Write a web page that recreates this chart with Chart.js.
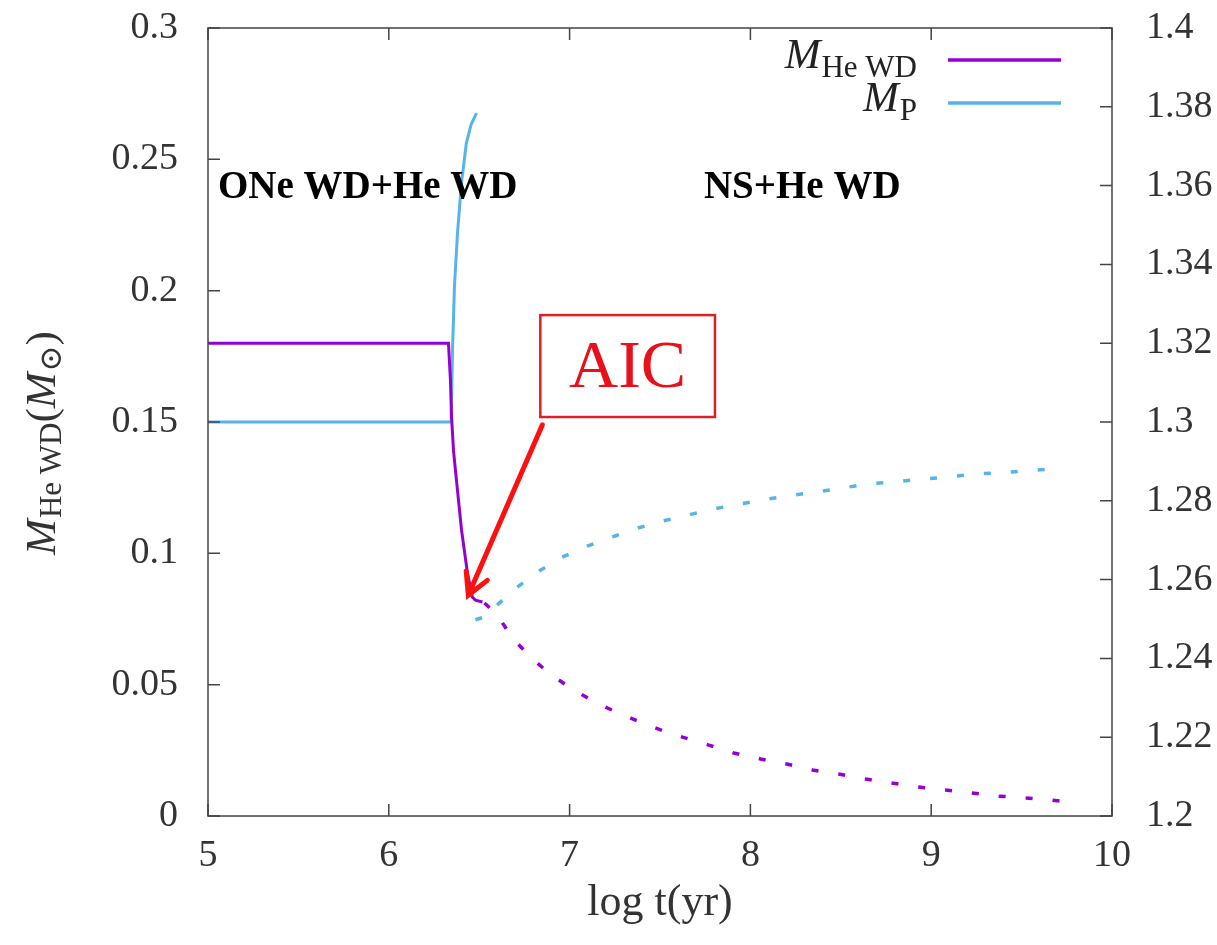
<!DOCTYPE html>
<html>
<head>
<meta charset="utf-8">
<script src="https://cdn.jsdelivr.net/npm/chart.js@4.4.1/dist/chart.umd.min.js"></script>
<style>
  html,body{margin:0;padding:0;background:#fff;}
  #wrap{width:1217px;height:945px;}
</style>
</head>
<body>
<div id="wrap"><canvas id="myChart" width="1217" height="945"></canvas></div>
<script>
// log t (yr) and He WD mass (left axis), before and after AIC
var heSolidT = [5.0, 6.330, 6.341, 6.347, 6.358, 6.374, 6.402, 6.435, 6.462, 6.479, 6.518];
var heSolidM = [0.18, 0.18, 0.166, 0.152, 0.139, 0.128, 0.109, 0.0925, 0.0834, 0.0822, 0.0815];
var heDashT = [6.529, 6.600, 6.683, 6.788, 6.898, 7.014, 7.147, 7.285, 7.417, 7.550, 7.770, 7.908, 8.057, 8.201, 8.344, 8.488, 8.637, 8.780, 8.929, 9.078, 9.222, 9.365, 9.520, 9.663, 9.713];
var heDashM = [0.0811, 0.0765, 0.0678, 0.0602, 0.0537, 0.0484, 0.0430, 0.0388, 0.0350, 0.0316, 0.0270, 0.0240, 0.0217, 0.0198, 0.0175, 0.0160, 0.0141, 0.0126, 0.0110, 0.0099, 0.0088, 0.0076, 0.0069, 0.0061, 0.0057];

// primary mass (right axis)
var pSolidT = [5.0, 6.345, 6.352, 6.363, 6.380, 6.402, 6.429, 6.455, 6.485];
var pSolidM = [1.3, 1.3, 1.3175, 1.3343, 1.348, 1.3607, 1.3708, 1.3755, 1.3784];
var pDashT = [6.479, 6.530, 6.600, 6.711, 6.832, 6.959, 7.097, 7.235, 7.379, 7.517, 7.632, 7.770, 7.908, 8.063, 8.206, 8.355, 8.504, 8.648, 8.797, 8.946, 9.089, 9.238, 9.387, 9.531, 9.680, 9.713];
var pDashM = [1.2498, 1.2505, 1.2536, 1.2581, 1.2622, 1.2657, 1.2685, 1.2708, 1.2731, 1.2749, 1.2761, 1.2777, 1.2789, 1.2802, 1.2812, 1.2822, 1.2832, 1.2843, 1.2848, 1.2855, 1.2860, 1.2868, 1.2871, 1.2876, 1.2881, 1.2883];

// annotations, in data units (x: log t, y: left axis)
var aicBox = {x1: 6.838, x2: 7.804, y1: 0.1907, y2: 0.1519};
var aicArrow = {x1: 6.849, y1: 0.1489, x2: 6.440, y2: 0.0841};
var stageLabels = [
    {text: 'ONe WD+He WD', x: 5.055, y: 0.2353},
    {text: 'NS+He WD', x: 7.743, y: 0.2353}
];

var purple = '#9400d3';
var blue = '#56b4e9';
var serif = "'Liberation Serif', 'DejaVu Serif', serif";

function pts(xs, ys) {
    return xs.map(function(v, i){ return {x: v, y: ys[i]}; });
}

// italic M with an upright subscript, returns width
function mSub(ctx, x, y, sub, measureOnly) {
    ctx.font = 'italic 43px ' + serif;
    var w1 = ctx.measureText('M').width;
    ctx.font = '31px ' + serif;
    var w2 = ctx.measureText(sub).width;
    if (!measureOnly) {
        ctx.font = 'italic 43px ' + serif;
        ctx.fillText('M', x, y);
        ctx.font = '31px ' + serif;
        ctx.fillText(sub, x + w1 + 1, y + 9);
    }
    return w1 + 1 + w2;
}

var decor = {
    id: 'decor',
    afterDraw: function(chart) {
        var ctx = chart.ctx;
        var a = chart.chartArea;
        var sx = chart.scales.x, sy = chart.scales.y, sy2 = chart.scales.y2;
        ctx.save();

        // frame and inward ticks
        ctx.strokeStyle = '#444';
        ctx.lineWidth = 1.5;
        ctx.strokeRect(a.left, a.top, a.right - a.left, a.bottom - a.top);
        ctx.beginPath();
        sx.ticks.forEach(function(t){
            var px = sx.getPixelForValue(t.value);
            ctx.moveTo(px, a.bottom); ctx.lineTo(px, a.bottom - 12);
            ctx.moveTo(px, a.top); ctx.lineTo(px, a.top + 12);
        });
        sy.ticks.forEach(function(t){
            var py = sy.getPixelForValue(t.value);
            ctx.moveTo(a.left, py); ctx.lineTo(a.left + 12, py);
        });
        sy2.ticks.forEach(function(t){
            var py = sy2.getPixelForValue(t.value);
            ctx.moveTo(a.right, py); ctx.lineTo(a.right - 12, py);
        });
        ctx.stroke();

        // stage labels
        ctx.fillStyle = '#000';
        ctx.font = 'bold 39px ' + serif;
        ctx.textAlign = 'left';
        ctx.textBaseline = 'alphabetic';
        stageLabels.forEach(function(l){
            ctx.fillText(l.text, sx.getPixelForValue(l.x), sy.getPixelForValue(l.y));
        });

        // AIC box
        var bx1 = sx.getPixelForValue(aicBox.x1), bx2 = sx.getPixelForValue(aicBox.x2);
        var by1 = sy.getPixelForValue(aicBox.y1), by2 = sy.getPixelForValue(aicBox.y2);
        ctx.fillStyle = '#fff';
        ctx.fillRect(bx1, by1, bx2 - bx1, by2 - by1);
        ctx.strokeStyle = '#dd1f26';
        ctx.lineWidth = 2.5;
        ctx.strokeRect(bx1, by1, bx2 - bx1, by2 - by1);
        ctx.fillStyle = '#e8101a';
        ctx.font = '68px ' + serif;
        ctx.textAlign = 'center';
        ctx.textBaseline = 'middle';
        ctx.fillText('AIC', (bx1 + bx2) / 2, (by1 + by2) / 2 + 3);

        // arrow
        var ax1 = sx.getPixelForValue(aicArrow.x1), ay1 = sy.getPixelForValue(aicArrow.y1);
        var ax2 = sx.getPixelForValue(aicArrow.x2), ay2 = sy.getPixelForValue(aicArrow.y2);
        var ang = Math.atan2(ay2 - ay1, ax2 - ax1);
        ctx.strokeStyle = '#ff1010';
        ctx.lineWidth = 5;
        ctx.lineCap = 'round';
        ctx.beginPath();
        ctx.moveTo(ax1, ay1); ctx.lineTo(ax2, ay2);
        ctx.moveTo(ax2 - 24 * Math.cos(ang - 0.5), ay2 - 24 * Math.sin(ang - 0.5));
        ctx.lineTo(ax2, ay2);
        ctx.lineTo(ax2 - 24 * Math.cos(ang + 0.5), ay2 - 24 * Math.sin(ang + 0.5));
        ctx.stroke();

        // legend
        ctx.textAlign = 'left';
        ctx.textBaseline = 'alphabetic';
        ctx.fillStyle = '#222';
        var rows = [{sub: 'He WD', col: purple, y: 60}, {sub: 'P', col: blue, y: 103}];
        rows.forEach(function(r){
            var w = mSub(ctx, 0, 0, r.sub, true);
            mSub(ctx, 917 - w, r.y + 8, r.sub, false);
            ctx.strokeStyle = r.col;
            ctx.lineWidth = 3.5;
            ctx.lineCap = 'butt';
            ctx.beginPath();
            ctx.moveTo(948, r.y); ctx.lineTo(1061, r.y);
            ctx.stroke();
        });

        // axis titles
        ctx.fillStyle = '#333';
        ctx.font = '44px ' + serif;
        ctx.textAlign = 'center';
        ctx.textBaseline = 'middle';
        ctx.fillText('log t(yr)', (a.left + a.right) / 2, 903);

        ctx.save();
        ctx.translate(44, 443);
        ctx.rotate(-Math.PI / 2);
        ctx.textAlign = 'left';
        ctx.textBaseline = 'middle';
        var w1 = mSub(ctx, 0, 0, 'He WD', true);
        ctx.font = '43px ' + serif;
        var wp = ctx.measureText('(').width;
        var w2 = mSub(ctx, 0, 0, '\u2299', true);
        var total = w1 + wp + w2 + wp;
        var x0 = -total / 2;
        mSub(ctx, x0, 0, 'He WD', false);
        ctx.font = '43px ' + serif;
        ctx.fillText('(', x0 + w1, 0);
        mSub(ctx, x0 + w1 + wp, 0, '\u2299', false);
        ctx.font = '43px ' + serif;
        ctx.fillText(')', x0 + w1 + wp + w2, 0);
        ctx.restore();

        ctx.restore();
    }
};

var tickFont = {family: serif, size: 38};

function fitY(width) {
    return function(s){
        s.width = width;
        s.paddingTop = 0;
        s.paddingBottom = 0;
    };
}

new Chart(document.getElementById('myChart').getContext('2d'), {
    type: 'line',
    data: {
        datasets: [
            {data: pts(heSolidT, heSolidM), yAxisID: 'y', borderColor: purple, borderWidth: 3},
            {data: pts(heDashT, heDashM), yAxisID: 'y', borderColor: purple, borderWidth: 3.5, borderDash: [7, 20]},
            {data: pts(pSolidT, pSolidM), yAxisID: 'y2', borderColor: blue, borderWidth: 3},
            {data: pts(pDashT, pDashM), yAxisID: 'y2', borderColor: blue, borderWidth: 3.5, borderDash: [7, 20]}
        ]
    },
    options: {
        responsive: false,
        animation: false,
        parsing: false,
        elements: {point: {radius: 0}, line: {tension: 0, fill: false}},
        layout: {padding: {top: 28, left: 0, right: 0, bottom: 0}},
        plugins: {legend: {display: false}, tooltip: {enabled: false}},
        scales: {
            x: {
                type: 'linear', min: 5, max: 10,
                grid: {display: false},
                border: {display: false},
                ticks: {stepSize: 1, font: tickFont, color: '#333', padding: 9, maxRotation: 0},
                afterFit: function(s){ s.height = 129; s.paddingLeft = 0; s.paddingRight = 0; }
            },
            y: {
                type: 'linear', position: 'left', min: 0, max: 0.3,
                grid: {display: false},
                border: {display: false},
                ticks: {stepSize: 0.05, font: tickFont, color: '#333', padding: 22,
                    callback: function(v){ return String(+v.toFixed(2)); }},
                afterFit: fitY(208)
            },
            y2: {
                type: 'linear', position: 'right', min: 1.2, max: 1.4,
                grid: {display: false},
                border: {display: false},
                ticks: {stepSize: 0.02, font: tickFont, color: '#333', padding: 26,
                    callback: function(v){ return String(+v.toFixed(2)); }},
                afterFit: fitY(105)
            }
        }
    },
    plugins: [decor]
});
</script>
</body>
</html>
